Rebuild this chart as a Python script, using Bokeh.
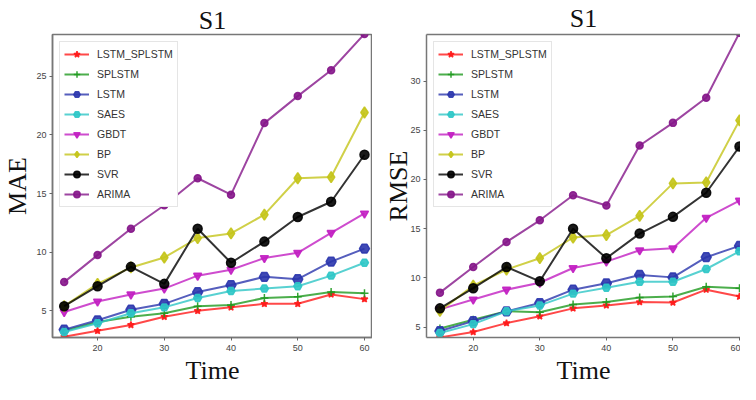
from bokeh.plotting import figure
from bokeh.layouts import row
from bokeh.models import Range1d, FixedTicker, Legend, Title, LinearAxis
from bokeh.embed import file_html
from bokeh.resources import INLINE

time = [15, 20, 25, 30, 35, 40, 45, 50, 55, 60]
models = ["LSTM_SPLSTM", "SPLSTM", "LSTM", "SAES", "GBDT", "BP", "SVR", "ARIMA"]

mae_lstm_splstm = [2.8, 3.3, 3.8, 4.5, 5.0, 5.3, 5.6, 5.6, 6.4, 6.0]
mae_splstm = [3.3, 4.05, 4.5, 4.8, 5.4, 5.5, 6.1, 6.2, 6.6, 6.5]
mae_lstm = [3.4, 4.2, 5.1, 5.6, 6.6, 7.2, 7.9, 7.7, 9.2, 10.3]
mae_saes = [3.2, 3.95, 4.8, 5.3, 6.1, 6.7, 6.9, 7.1, 8.0, 9.1]
mae_gbdt = [4.9, 5.8, 6.4, 6.9, 8.0, 8.5, 9.5, 9.95, 11.65, 13.3]
mae_bp = [5.4, 7.3, 8.7, 9.55, 11.2, 11.6, 13.2, 16.3, 16.4, 21.9]
mae_svr = [5.4, 7.1, 8.75, 7.3, 12.0, 9.1, 10.9, 13.0, 14.3, 18.3]
mae_arima = [7.45, 9.75, 12.0, 14.0, 16.3, 14.9, 21.0, 23.3, 25.5, 28.6]

rmse_lstm_splstm = [3.95, 4.5, 5.4, 6.1, 6.9, 7.2, 7.55, 7.5, 8.8, 8.1]
rmse_splstm = [4.85, 5.75, 6.6, 6.5, 7.3, 7.55, 8.0, 8.1, 9.1, 8.95]
rmse_lstm = [4.6, 5.6, 6.6, 7.45, 8.8, 9.45, 10.3, 10.05, 12.1, 13.25]
rmse_saes = [4.4, 5.3, 6.6, 7.2, 8.4, 9.0, 9.6, 9.6, 10.9, 12.7]
rmse_gbdt = [6.8, 7.8, 8.8, 9.5, 11.0, 11.65, 12.8, 13.0, 16.1, 17.85]
rmse_bp = [6.65, 9.2, 10.85, 12.0, 14.1, 14.35, 16.3, 19.6, 19.7, 26.0]
rmse_svr = [6.9, 8.95, 11.1, 9.65, 15.0, 12.0, 14.5, 16.2, 18.65, 23.35]
rmse_arima = [8.5, 11.1, 13.65, 15.85, 18.4, 17.35, 23.45, 25.75, 28.3, 34.9]

x_ticks = [20, 30, 40, 50, 60]
mae_ticks = [5, 10, 15, 20, 25]
rmse_ticks = [5, 10, 15, 20, 25, 30]

styles = {
    "LSTM_SPLSTM": dict(color="#ff1a1a", marker="star", size=7),
    "SPLSTM": dict(color="#1f9a1f", marker="cross", size=8),
    "LSTM": dict(color="#2b36ad", marker="hex", size=10),
    "SAES": dict(color="#2ec6c6", marker="hex", size=8),
    "GBDT": dict(color="#c21fc2", marker="inverted_triangle", size=8),
    "BP": dict(color="#c4c41a", marker="diamond", size=11),
    "SVR": dict(color="#000000", marker="circle", size=9),
    "ARIMA": dict(color="#85168a", marker="circle", size=7),
}

SERIF = "Liberation Serif"
SANS = "Liberation Sans"


def make_panel(series, ylabel, y_range, x_range, yticks, width, height,
               min_left, min_right, title_standoff, title_offset,
               ylabel_standoff, full_outline):
    p = figure(width=width, height=height, output_backend="svg",
               toolbar_location=None, x_range=Range1d(*x_range),
               y_range=Range1d(*y_range), title="S1",
               min_border_left=min_left, min_border_right=min_right,
               min_border_top=0, min_border_bottom=0)
    p.title.text_font = SERIF
    p.title.text_font_size = "26px"
    p.title.text_font_style = "normal"
    p.title.align = "center"
    p.title.standoff = title_standoff
    p.title.offset = title_offset
    p.title.text_color = "#111111"
    p.xgrid.visible = False
    p.ygrid.visible = False
    p.background_fill_color = "white"
    p.border_fill_color = "white"

    items = []
    for name, ys in zip(models, series):
        st = styles[name]
        r1 = p.line(time, ys, line_color=st["color"], line_width=2, line_alpha=0.8)
        r2 = p.scatter(time, ys, marker=st["marker"], size=st["size"],
                       fill_color=st["color"], line_color=st["color"],
                       fill_alpha=0.9, line_alpha=0.9, line_width=1.5)
        items.append((name, [r1, r2]))

    legend = Legend(items=items, location="top_left")
    legend.label_text_font = SANS
    legend.label_text_font_size = "10.5px"
    legend.label_text_color = "#333333"
    legend.glyph_width = 25
    legend.glyph_height = 16
    legend.label_height = 16
    legend.spacing = 4
    legend.padding = 4
    legend.margin = 7
    legend.label_standoff = 8
    legend.border_line_color = "#cccccc"
    legend.border_line_width = 1
    legend.background_fill_alpha = 1.0
    p.add_layout(legend, "center")

    for ax in (p.xaxis[0], p.yaxis[0]):
        ax.major_tick_out = 3
        ax.major_tick_in = 0
        ax.minor_tick_out = 0
        ax.minor_tick_in = 0
        ax.major_label_text_font = SANS
        ax.major_label_text_font_size = "9px"
        ax.major_label_text_color = "#444444"
        ax.major_tick_line_color = "#666666"
        ax.axis_line_color = "#777777"
        ax.axis_line_width = 1.5
        ax.axis_label_text_font = SERIF
        ax.axis_label_text_font_size = "26px"
        ax.axis_label_text_font_style = "normal"
        ax.axis_label_text_color = "#111111"
        ax.major_label_standoff = 3
    p.xaxis[0].major_label_standoff = 4
    p.yaxis[0].axis_label_standoff = ylabel_standoff
    p.xaxis[0].ticker = FixedTicker(ticks=x_ticks)
    p.yaxis[0].ticker = FixedTicker(ticks=yticks)
    p.yaxis[0].axis_label = ylabel
    xt = Title(text="Time", align="center", text_font=SERIF,
               text_font_size="26px", text_font_style="normal",
               text_color="#111111", standoff=0, text_line_height=1.1)
    p.add_layout(xt, "below")
    if full_outline:
        p.outline_line_color = "#777777"
        p.outline_line_width = 1.5
    else:
        p.outline_line_color = None
    return p


left = make_panel([mae_lstm_splstm, mae_splstm, mae_lstm, mae_saes, mae_gbdt,
                   mae_bp, mae_svr, mae_arima], "MAE", (2.73, 28.55),
                  (13.25, 61.2), mae_ticks, 372, 384, 43, 0, 0, 0, 1, True)
right = make_panel([rmse_lstm_splstm, rmse_splstm, rmse_lstm, rmse_saes,
                    rmse_gbdt, rmse_bp, rmse_svr, rmse_arima], "RMSE",
                   (3.94, 34.73), (12.98, 60.15), rmse_ticks, 368, 384, 54, 0,
                   3, 6, -6, False)
# top border line for right panel (right spine is cut off in the reference)
top_ax = LinearAxis(major_tick_out=0, major_tick_in=0, minor_tick_out=0,
                    minor_tick_in=0, major_label_text_font_size="0px",
                    axis_line_color="#777777", axis_line_width=1.5,
                    ticker=FixedTicker(ticks=[]))
right.add_layout(top_ax, "above")

layout = row(left, right, spacing=0)
open("out.html", "w").write(file_html(layout, INLINE))
